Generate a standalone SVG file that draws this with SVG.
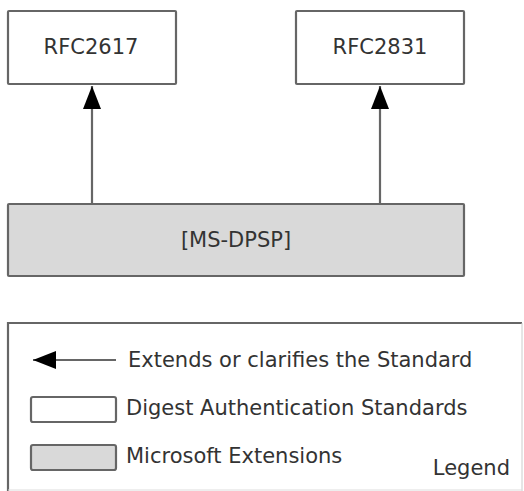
<svg xmlns="http://www.w3.org/2000/svg" width="524" height="491" viewBox="0 0 524 491">
<style>
text{font-family:"DejaVu Sans",Verdana,sans-serif;font-size:21px;fill:#333}
.box{fill:#fff;stroke:#666;stroke-width:2.2}
.ext{fill:#d9d9d9;stroke:#666;stroke-width:2.2}
.conn{stroke:#666;stroke-width:2.2;fill:none}
</style>
<defs>
<marker id="ah" viewBox="0 0 23 18" refX="23" refY="9" markerUnits="userSpaceOnUse" markerWidth="23" markerHeight="18" orient="auto">
<path d="M0,0 L23,9 L0,18 Z" fill="#000"/>
</marker>
</defs>
<rect width="524" height="491" fill="#fff"/>
<g id="rfc2617"><rect class="box" x="8" y="11" width="168" height="73" rx="1"/><text x="91" y="54" text-anchor="middle">RFC2617</text></g>
<g id="rfc2831"><rect class="box" x="296" y="11" width="168" height="73" rx="1"/><text x="380" y="54" text-anchor="middle">RFC2831</text></g>
<g id="msdpsp"><rect class="ext" x="8" y="204" width="456" height="72" rx="1"/><text x="236" y="247" text-anchor="middle">[MS-DPSP]</text></g>
<g id="connectors">
<line class="conn" x1="92" y1="204" x2="92" y2="86" marker-end="url(#ah)"/>
<line class="conn" x1="380" y1="204" x2="380" y2="86" marker-end="url(#ah)"/>
</g>
<g id="legend">
<line x1="8" y1="323" x2="522" y2="323" stroke="#666" stroke-width="2.2"/>
<line x1="8" y1="322" x2="8" y2="491" stroke="#666" stroke-width="2.2"/>
<line x1="522" y1="323" x2="522" y2="491" stroke="#ccc" stroke-width="1"/>
<line x1="8" y1="490" x2="522" y2="490" stroke="#ddd" stroke-width="1"/>
<line class="conn" x1="116" y1="360" x2="33" y2="360" stroke-width="1.5" marker-end="url(#ah)"/>
<text x="128" y="367">Extends or clarifies the Standard</text>
<rect class="box" x="31" y="397" width="85" height="25" rx="2"/>
<text x="126" y="415">Digest Authentication Standards</text>
<rect class="ext" x="31" y="445" width="85" height="25" rx="2"/>
<text x="126" y="463">Microsoft Extensions</text>
<text x="510" y="475" text-anchor="end">Legend</text>
</g>
</svg>
